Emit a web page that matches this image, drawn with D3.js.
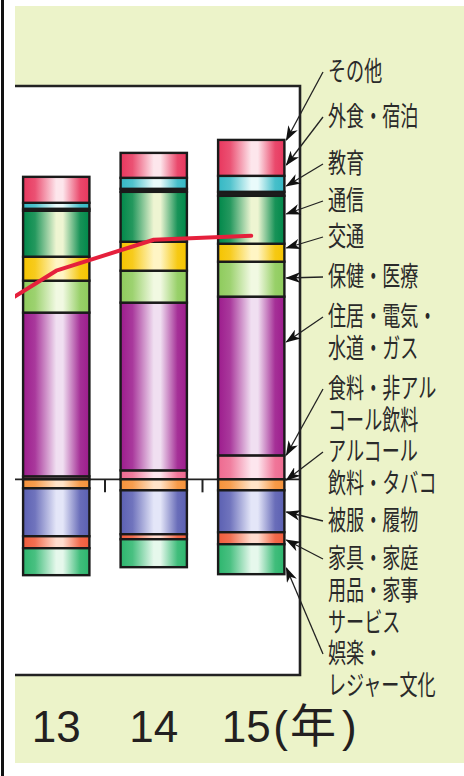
<!DOCTYPE html>
<html>
<head>
<meta charset="utf-8">
<script src="https://cdn.jsdelivr.net/npm/d3@7"></script>
<style>
  html, body { margin: 0; padding: 0; background: #fff; }
  svg { display: block; }
</style>
</head>
<body>
<svg id="chart"></svg>
<script>
// years on the x axis ("12" is only partly in view, its bar is cut off)
const years = ["12", "13", "14", "15"];
const barYears = ["13", "14", "15"];

// categories, top to bottom as in the legend
const categories = ["その他", "外食・宿泊", "教育", "通信", "交通", "保健・医療",
  "住居・電気・水道・ガス", "食料・非アルコール飲料", "アルコール飲料・タバコ",
  "被服・履物", "家具・家庭用品・家事サービス", "娯楽・レジャー文化"];
const labelLines = [["その他"], ["外食・宿泊"], ["教育"], ["通信"], ["交通"], ["保健・医療"],
  ["住居・電気・", "水道・ガス"], ["食料・非アル", "コール飲料"], ["アルコール", "飲料・タバコ"],
  ["被服・履物"], ["家具・家庭", "用品・家事", "サービス"], ["娯楽・", "レジャー文化"]];

// contributions per year (same order as categories)
const values13 = [1.3, 0.3, 0.1, 2.3, 1.2, 1.6, 8.2, 0.15, -0.45, -2.4, -0.6, -1.35];
const values14 = [1.25, 0.55, 0.15, 2.5, 1.45, 1.6, 8.4, 0.45, -0.55, -2.2, -0.25, -1.4];
const values15 = [1.8, 0.8, 0.2, 2.4, 0.9, 1.75, 7.95, 1.2, -0.55, -2.1, -0.6, -1.5];

// red line
const lineValues = [7.4, 10.45, 12.0, 12.2];

// colours: edge colour and highlight colour of each band
const baseColors = ["#e8375e", "#35b8c4", "#1e1e1e", "#00884a", "#f5c400", "#8ecb5c",
  "#9d1c8d", "#ee6a90", "#f5923a", "#5b60b2", "#f05c3c", "#2db66e"];
const lightColors = ["#fde6ec", "#e9fbfb", "#1e1e1e", "#eef5d2", "#fff5c4", "#f1f9e2",
  "#f0dff1", "#fde6ee", "#ffe3c8", "#e4e6f8", "#ffdccf", "#e6f8ec"];

// layout of the legend on the right
const labelBaselines = [81, 126, 173, 210, 246, 286, 326, 398, 461, 530, 568, 663];
const arrowTips = [140, 165, 186, 214, 248, 278, 342, 455, 480, 512, 540, 568];

const width = 464, height = 776;
const svg = d3.select("#chart").attr("width", width).attr("height", height);

const x = d3.scaleBand()
    .domain(years)
    .range([-90, 300])
    .paddingInner(0.32)
    .paddingOuter(0.16);

const y = d3.scaleLinear()
    .domain([-9.8, 19.7])
    .range([675, 86]);

const plotLeft = 15, plotRight = 300;

// table for the stack
const byYear = { "13": values13, "14": values14, "15": values15 };
const table = barYears.map(yr => {
    const row = { year: yr };
    categories.forEach((c, i) => row[c] = byYear[yr][i]);
    return row;
});
// positives stack upwards from the bottom of the legend list, negatives downwards
const posKeys = categories.filter((c, i) => values15[i] >= 0).reverse();
const negKeys = categories.filter((c, i) => values15[i] < 0);
const stack = d3.stack()
    .keys(posKeys.concat(negKeys))
    .offset(d3.stackOffsetDiverging);
const series = stack(table);

// gradients
const defs = svg.append("defs");
categories.forEach((c, i) => {
    const g = defs.append("linearGradient")
        .attr("id", "grad" + i)
        .attr("x1", 0).attr("x2", 1).attr("y1", 0).attr("y2", 0);
    const mid = d3.interpolateRgb(baseColors[i], lightColors[i]);
    [[0, baseColors[i]], [0.18, mid(0.15)], [0.5, lightColors[i]], [0.6, lightColors[i]],
     [0.86, mid(0.1)], [1, baseColors[i]]].forEach(s => {
        g.append("stop").attr("offset", s[0]).attr("stop-color", s[1]);
    });
});
defs.append("clipPath").attr("id", "plotClip")
  .append("rect")
    .attr("x", plotLeft).attr("y", y.range()[1])
    .attr("width", plotRight - plotLeft).attr("height", y.range()[0] - y.range()[1]);
defs.append("marker")
    .attr("id", "arrow")
    .attr("viewBox", "0 0 14 10")
    .attr("refX", 13).attr("refY", 5)
    .attr("markerWidth", 15).attr("markerHeight", 11)
    .attr("markerUnits", "userSpaceOnUse")
    .attr("orient", "auto")
  .append("path")
    .attr("d", "M0,0 L14,5 L0,10 L4,5 Z")
    .attr("fill", "#111");

// background
svg.append("rect").attr("width", width).attr("height", height).attr("fill", "#fff");
svg.append("rect").attr("x", 1).attr("y", 0).attr("width", 3).attr("height", height).attr("fill", "#111");
svg.append("rect")
    .attr("x", plotLeft).attr("y", 6)
    .attr("width", width - plotLeft).attr("height", 757)
    .attr("fill", "#ecf3c9");
svg.append("rect")
    .attr("x", plotLeft).attr("y", y.range()[1])
    .attr("width", plotRight - plotLeft).attr("height", y.range()[0] - y.range()[1])
    .attr("fill", "#fff");

const plot = svg.append("g").attr("clip-path", "url(#plotClip)");

// zero line and ticks between the years
plot.append("line")
    .attr("x1", plotLeft).attr("x2", plotRight)
    .attr("y1", y(0)).attr("y2", y(0))
    .attr("stroke", "#222").attr("stroke-width", 1.6);
const gap = x.step() - x.bandwidth();
plot.selectAll(".tick")
    .data(years.slice(1))
    .join("line")
    .attr("class", "tick")
    .attr("x1", d => x(d) - gap / 2).attr("x2", d => x(d) - gap / 2)
    .attr("y1", y(0)).attr("y2", y(0) + 13)
    .attr("stroke", "#222").attr("stroke-width", 2);

// stacked bars
plot.selectAll(".layer")
    .data(series)
    .join("g")
    .attr("class", "layer")
    .attr("fill", d => "url(#grad" + categories.indexOf(d.key) + ")")
  .selectAll("rect")
    .data(d => d)
    .join("rect")
    .attr("x", d => x(d.data.year))
    .attr("width", x.bandwidth())
    .attr("y", d => y(Math.max(d[0], d[1])))
    .attr("height", d => Math.abs(y(d[0]) - y(d[1])))
    .attr("stroke", "#1a1a1a")
    .attr("stroke-width", 2.4);

// red line
const line = d3.line()
    .x((d, i) => x(years[i]) + x.bandwidth() / 2)
    .y(d => y(d));
plot.append("path")
    .datum(lineValues)
    .attr("d", line)
    .attr("fill", "none")
    .attr("stroke", "#e5203c")
    .attr("stroke-width", 4)
    .attr("stroke-linecap", "round")
    .attr("stroke-linejoin", "round");

// frame
svg.append("path")
    .attr("d", `M${plotLeft},${y.range()[1]} H${plotRight} V${y.range()[0]} H${plotLeft}`)
    .attr("fill", "none")
    .attr("stroke", "#222")
    .attr("stroke-width", 2.6);

// year labels
const yearLabels = svg.append("g")
    .attr("font-family", "'Liberation Sans', Arial, sans-serif")
    .attr("font-size", 44)
    .attr("fill", "#231f20");
barYears.forEach((yr, i) => {
    yearLabels.append("text")
        .attr("x", x(yr) + x.bandwidth() / 2)
        .attr("dx", i === barYears.length - 1 ? -5 : 0)
        .attr("y", 742)
        .attr("text-anchor", "middle")
        .text(yr);
});
const unit = yearLabels.append("text")
    .attr("x", x("15") + x.bandwidth() / 2 + 22)
    .attr("y", 742);
unit.append("tspan").text("(");
unit.append("tspan")
    .attr("dx", 2)
    .attr("font-family", "'Noto Sans CJK JP', sans-serif")
    .attr("font-size", 46)
    .text("年");
unit.append("tspan").attr("dx", 6).text(")");

// legend with leader arrows
const legendX = 328;
const barRight = x("15") + x.bandwidth();
categories.forEach((c, i) => {
    svg.append("line")
        .attr("x1", legendX - 5).attr("y1", labelBaselines[i] - 9)
        .attr("x2", barRight + 2).attr("y2", arrowTips[i])
        .attr("stroke", "#222").attr("stroke-width", 1.3)
        .attr("marker-end", "url(#arrow)");
    const t = svg.append("g")
        .attr("transform", `translate(${legendX},${labelBaselines[i]}) scale(0.67,1)`)
        .append("text")
        .attr("font-family", "'Noto Sans CJK JP', sans-serif")
        .attr("font-size", 27)
        .attr("fill", "#2a2a2a");
    labelLines[i].forEach((ln, j) => {
        t.append("tspan").attr("x", 0).attr("y", j * 32).text(ln);
    });
});
</script>
</body>
</html>
